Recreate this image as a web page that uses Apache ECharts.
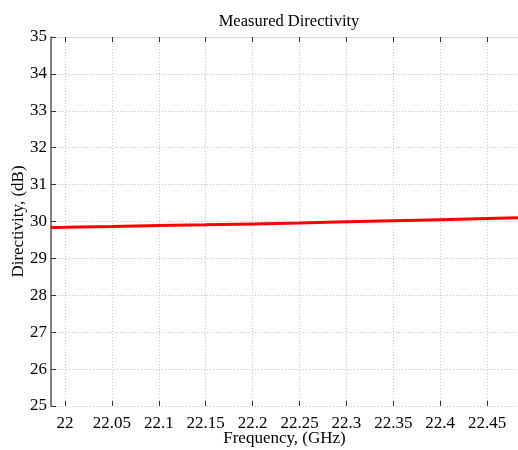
<!DOCTYPE html>
<html>
<head>
<meta charset="utf-8">
<script src="https://cdn.jsdelivr.net/npm/echarts@6/dist/echarts.min.js"></script>
<style>html,body{margin:0;padding:0;background:#fff}#c{width:518px;height:450px}</style>
</head>
<body>
<div id="c"></div>
<script>
var freq = [21.985, 22.0, 22.05, 22.1, 22.15, 22.2, 22.25, 22.3, 22.35, 22.4, 22.45, 22.483];
var directivity = [29.84, 29.845, 29.865, 29.89, 29.91, 29.935, 29.96, 29.99, 30.02, 30.05, 30.08, 30.10];
var xTicks = [22, 22.05, 22.1, 22.15, 22.2, 22.25, 22.3, 22.35, 22.4, 22.45];
var yTicks = [25, 26, 27, 28, 29, 30, 31, 32, 33, 34, 35];

var font = 'Liberation Serif';
var chart = echarts.init(document.getElementById('c'), null, {renderer: 'canvas'});
var gridStyle = {show: true, lineStyle: {color: '#c4c4c4', type: [1, 2], width: 1}};
chart.setOption({
  animation: false,
  title: {text: 'Measured Directivity', left: 284, textAlign: 'center', top: 8,
    textStyle: {fontFamily: font, fontSize: 16.5, fontWeight: 'normal', color: '#000'}},
  grid: {left: 51, right: 0, top: 37, bottom: 44, containLabel: false, outerBoundsMode: 'none'},
  xAxis: [{
    type: 'value', min: 21.985, max: 22.483, position: 'bottom',
    axisLine: {show: false},
    axisTick: {show: true, inside: true, length: 5, lineStyle: {color: '#333'},
      customValues: xTicks},
    axisLabel: {fontFamily: font, fontSize: 17, color: '#000', margin: 9,
      customValues: xTicks, formatter: function (v) { return String(+v.toFixed(2)); }},
    splitLine: gridStyle,
    name: 'Frequency, (GHz)', nameLocation: 'middle', nameGap: 24, nameMoveOverlap: false,
    nameTextStyle: {fontFamily: font, fontSize: 17, color: '#000'}
  }, {
    type: 'value', min: 21.985, max: 22.483, position: 'top',
    axisLine: {show: true, lineStyle: {color: '#d8d8d8'}},
    axisTick: {show: true, inside: true, length: 5, lineStyle: {color: '#333'},
      customValues: xTicks},
    axisLabel: {show: false},
    splitLine: {show: false}
  }],
  yAxis: {
    type: 'value', min: 25, max: 35, interval: 1,
    axisLine: {show: true, lineStyle: {color: '#555', width: 1.5}},
    axisTick: {show: true, inside: true, length: 5, lineStyle: {color: '#333'}},
    axisLabel: {fontFamily: font, fontSize: 17, color: '#000', margin: 4,
      customValues: yTicks},
    splitLine: gridStyle,
    name: 'Directivity, (dB)', nameLocation: 'middle', nameGap: 24, nameRotate: 90, nameMoveOverlap: false,
    nameTextStyle: {fontFamily: font, fontSize: 17, color: '#000'}
  },
  series: [{
    type: 'line', xAxisIndex: 0,
    data: freq.map(function (f, i) { return [f, directivity[i]]; }),
    showSymbol: false, smooth: false,
    lineStyle: {color: '#ff0000', width: 3}
  }]
});
</script>
</body>
</html>
